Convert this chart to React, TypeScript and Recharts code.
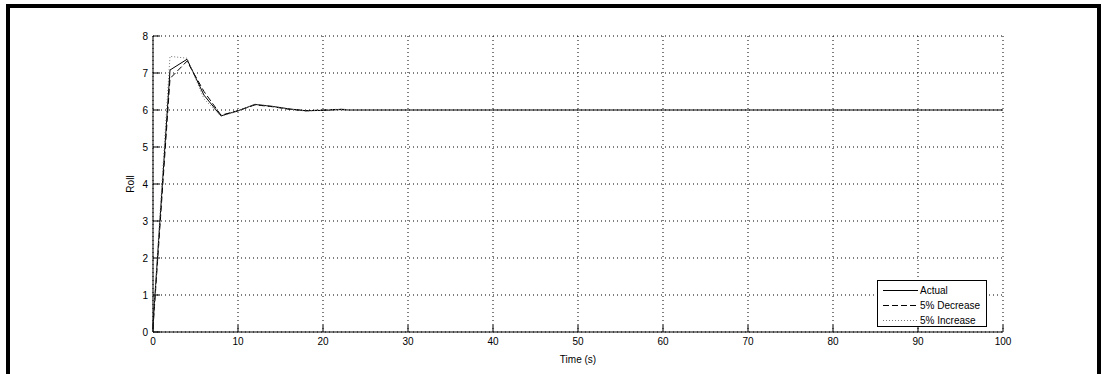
import { CartesianGrid, Legend, Line, LineChart, XAxis, YAxis } from 'recharts';

// sample times (s) for the three responses
const time = [0, 2, 4, 6, 8, 10, 12, 14, 16, 18, 20, 22, 23];
const actual = [0.2, 7.08, 7.37, 6.4, 5.84, 5.98, 6.15, 6.1, 6.03, 5.98, 5.99, 6.01, 6.0];
const decrease = [0.1, 6.85, 7.32, 6.5, 5.86, 5.98, 6.14, 6.09, 6.02, 5.98, 6.0, 6.02, 6.01];
const increase = [0.2, 7.45, 7.4, 6.3, 5.83, 5.97, 6.16, 6.1, 6.03, 5.97, 6.0, 6.02, 6.01];
// the actual response is held at its setpoint to the end of the run
const actualEndTime = 100;
const actualEndValue = 6;

const xTicks = [0, 10, 20, 30, 40, 50, 60, 70, 80, 90, 100];
const yTicks = [0, 1, 2, 3, 4, 5, 6, 7, 8];

const rows: Record<string, number>[] = time.map((t, i) => ({
  t,
  actual: actual[i],
  decrease: decrease[i],
  increase: increase[i],
}));
rows.push({ t: actualEndTime, actual: actualEndValue });

const series = [
  { key: 'actual', name: 'Actual', color: '#000', dash: undefined as string | undefined },
  { key: 'decrease', name: '5% Decrease', color: '#000', dash: '6 3' },
  { key: 'increase', name: '5% Increase', color: '#777', dash: '1 2' },
];

const FONT = '"Liberation Sans", Arial, sans-serif';
const tickStyle = { fontSize: 10, fill: '#000', fontFamily: FONT };

const RollLabel = ({ viewBox }: any) => {
  const cx = viewBox.x + viewBox.width - 22;
  const cy = viewBox.y + viewBox.height / 2;
  return (
    <text
      x={cx}
      y={cy}
      transform={`rotate(-90 ${cx} ${cy})`}
      textAnchor="middle"
      dominantBaseline="middle"
      fontSize={10}
      fontFamily={FONT}
      fill="#000"
    >
      Roll
    </text>
  );
};

const LegendBox = () => (
  <div
    style={{
      border: '1px solid #000',
      background: '#fff',
      width: 108,
      height: 43,
      fontFamily: FONT,
      fontSize: 10,
      color: '#000',
      paddingTop: 2,
      boxSizing: 'content-box',
    }}
  >
    {series.map((s) => (
      <div key={s.key} style={{ display: 'flex', alignItems: 'center', height: 15 }}>
        <svg width={42} height={15} style={{ display: 'block' }}>
          <line x1={5} x2={40} y1={7.5} y2={7.5} stroke={s.color} strokeDasharray={s.dash} />
        </svg>
        <span>{s.name}</span>
      </div>
    ))}
  </div>
);

export default function App() {
  return (
    <div style={{ position: 'absolute', left: 0, top: 0, width: 1109, height: 374, background: '#fff' }}>
      <div
        style={{
          position: 'absolute',
          left: 6,
          top: 4,
          width: 1095,
          height: 370,
          borderTop: '4px solid #000',
          borderLeft: '4px solid #000',
          borderRight: '4px solid #000',
          boxSizing: 'border-box',
        }}
      />
      <LineChart
        width={1109}
        height={374}
        data={rows}
        margin={{ top: 36, right: 106, bottom: 0, left: 0 }}
        style={{ position: 'absolute', left: 0, top: 0 }}
      >
        <CartesianGrid stroke="#000" strokeDasharray="1 3" strokeWidth={1} />
        <XAxis
          dataKey="t"
          type="number"
          domain={[0, 100]}
          ticks={xTicks}
          height={42}
          stroke="#000"
          tickSize={-7}
          tickMargin={13}
          tick={tickStyle}
          axisLine={{ stroke: '#000' }}
          tickLine={{ stroke: '#000' }}
          label={{ value: 'Time (s)', position: 'insideBottom', offset: 11, fontSize: 10, fill: '#000', fontFamily: FONT }}
        />
        <XAxis
          xAxisId="top"
          orientation="top"
          type="number"
          domain={[0, 100]}
          ticks={xTicks}
          mirror
          height={0}
          tick={false}
          tickSize={7}
          axisLine={{ stroke: '#000' }}
          tickLine={{ stroke: '#000' }}
          label={{
            value: 'Roll Output With Different PID Controllers',
            position: 'top',
            offset: 9,
            fontSize: 10,
            fill: '#000',
            fontFamily: FONT,
          }}
        />
        <YAxis
          type="number"
          domain={[0, 8]}
          ticks={yTicks}
          width={153}
          tickSize={-7}
          tickMargin={12}
          tick={tickStyle}
          axisLine={{ stroke: '#000' }}
          tickLine={{ stroke: '#000' }}
          label={<RollLabel />}
        />
        <YAxis
          yAxisId="right"
          orientation="right"
          type="number"
          domain={[0, 8]}
          ticks={yTicks}
          mirror
          width={0}
          tick={false}
          tickSize={7}
          axisLine={{ stroke: '#000' }}
          tickLine={{ stroke: '#000' }}
        />
        <Legend
          layout="horizontal"
          verticalAlign="middle"
          align="center"
          content={<LegendBox />}
          wrapperStyle={{ position: 'absolute', left: 877, top: 280, width: 110 }}
        />
        {series.map((s) => (
          <Line
            key={s.key}
            dataKey={s.key}
            name={s.name}
            type="linear"
            stroke={s.color}
            strokeWidth={1}
            strokeDasharray={s.dash}
            dot={false}
            activeDot={false}
            isAnimationActive={false}
          />
        ))}
      </LineChart>
    </div>
  );
}
